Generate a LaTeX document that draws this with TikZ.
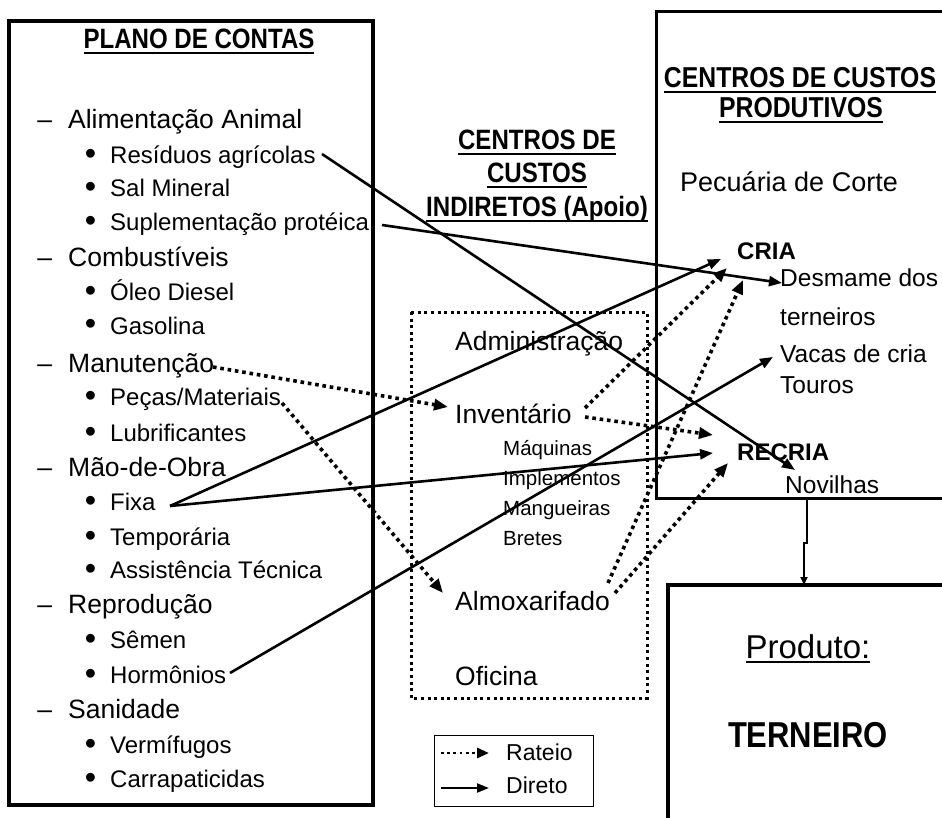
\documentclass[tikz,border=0pt]{standalone}
\usepackage{fontspec}
\setmainfont{Liberation Sans}
\newfontfamily\hfont[FakeStretch=0.86]{Liberation Sans}
\usetikzlibrary{arrows.meta}
\newcommand\ulbox[1]{\setbox0\hbox{#1}\leavevmode\rlap{\rule[-5pt]{\wd0}{2.2pt}}\box0}
\newcommand\dashitem{\makebox[0pt][r]{–\hspace{16pt}}}
\newcommand\bulitem{\makebox[0pt][r]{\raisebox{-1pt}{\scalebox{1.35}{\textbullet}}\hspace{14pt}}}
\tikzset{
  txt/.style={inner sep=0pt, anchor=base west},
  ctxt/.style={inner sep=0pt, anchor=base},
  mainitem/.style={txt, font=\fontsize{26.5}{30}\selectfont},
  subitem/.style={txt, font=\fontsize{24}{28}\selectfont},
  small/.style={txt, font=\fontsize{20.5}{24}\selectfont},
  head/.style={ctxt, font=\fontsize{28}{32}\hfont\bfseries},
  rtxt/.style={txt, font=\fontsize{24.5}{28}\selectfont},
  boldlbl/.style={txt, font=\fontsize{24}{28}\selectfont\bfseries},
  thickbox/.style={line width=3.4pt},
  dotbox/.style={line width=3pt, dash pattern=on 3pt off 3.6pt},
  direct/.style={line width=2.6pt, -{Triangle[length=13pt,width=10pt]}},
  rateio/.style={line width=3.6pt, dash pattern=on 3.6pt off 3.8pt, -{Triangle[length=14pt,width=11pt]}},
  legdot/.style={line width=2.8pt, dash pattern=on 2.8pt off 3.4pt, -{Triangle[length=12pt,width=10pt]}},
  legsolid/.style={line width=2.2pt, -{Triangle[length=12pt,width=9pt]}},
}
\begin{document}
\begin{tikzpicture}[x=1pt, y=-1pt]
\useasboundingbox (0,0) rectangle (942,818);
\fill[white] (0,0) rectangle (942,818);

% boxes
\draw[thickbox] (9,21) rectangle (373,805);
\draw[line width=3pt] (656,12) rectangle (960,498);
\draw[thickbox] (668,585) rectangle (960,840);
\draw[dotbox] (411,312) rectangle (647,698);
\draw[line width=1pt] (434,735) rectangle (593,806);

% left: plano de contas
\node[head] (plano) at (199,49) {\ulbox{PLANO DE CONTAS}};
\node[mainitem] (alim) at (68,129) {\dashitem Alimentação Animal};
\node[subitem] (resid) at (110,164) {\bulitem Resíduos agrícolas};
\node[subitem] (sal) at (110,197) {\bulitem Sal Mineral};
\node[subitem] (supl) at (110,231) {\bulitem Suplementação protéica};
\node[mainitem] (comb) at (68,267) {\dashitem Combustíveis};
\node[subitem] (oleo) at (110,301) {\bulitem Óleo Diesel};
\node[subitem] (gaso) at (110,334) {\bulitem Gasolina};
\node[mainitem] (manu) at (68,372) {\dashitem Manutenção};
\node[subitem] (pecas) at (110,405) {\bulitem Peças/Materiais};
\node[subitem] (lubr) at (110,441) {\bulitem Lubrificantes};
\node[mainitem] (mao) at (68,476) {\dashitem Mão-de-Obra};
\node[subitem] (fixa) at (110,510) {\bulitem Fixa};
\node[subitem] (temp) at (110,545) {\bulitem Temporária};
\node[subitem] (assist) at (110,578) {\bulitem Assistência Técnica};
\node[mainitem] (repr) at (68,613) {\dashitem Reprodução};
\node[subitem] (semen) at (110,648) {\bulitem Sêmen};
\node[subitem] (horm) at (110,683) {\bulitem Hormônios};
\node[mainitem] (sani) at (68,718) {\dashitem Sanidade};
\node[subitem] (verm) at (110,753) {\bulitem Vermífugos};
\node[subitem] (carr) at (110,787) {\bulitem Carrapaticidas};

% center: centros indiretos
\node[head] (ci1) at (537,150) {\ulbox{CENTROS DE}};
\node[head] (ci2) at (537,183) {\ulbox{CUSTOS}};
\node[head] (ci3) at (537,217) {\ulbox{INDIRETOS (Apoio)}};
\node[mainitem] (adm) at (455,350) {Administração};
\node[mainitem] (inv) at (455,423) {Inventário};
\node[small] (maq) at (503,455) {Máquinas};
\node[small] (impl) at (503,485) {Implementos};
\node[small] (mang) at (503,515) {Mangueiras};
\node[small] (bret) at (503,545) {Bretes};
\node[mainitem] (almox) at (455,610) {Almoxarifado};
\node[mainitem] (ofic) at (455,685) {Oficina};

% legend
\coordinate (lgA1) at (441,753);
\coordinate (lgA2) at (489,753);
\coordinate (lgB1) at (441,788);
\coordinate (lgB2) at (489,788);
\node[txt, font=\fontsize{23}{26}\selectfont] (rat) at (506,760) {Rateio};
\node[txt, font=\fontsize{23}{26}\selectfont] (dir) at (506,793) {Direto};
\draw[legdot] (lgA1) -- (lgA2);
\draw[legsolid] (lgB1) -- (lgB2);

% right: centros produtivos
\node[head, font=\fontsize{28.8}{33}\hfont\bfseries] (cp1) at (800,88) {\ulbox{CENTROS DE CUSTOS}};
\node[head, font=\fontsize{28.8}{33}\hfont\bfseries] (cp2) at (801,118) {\ulbox{PRODUTIVOS}};
\node[txt, font=\fontsize{27}{30}\selectfont] (pec) at (680,192) {Pecuária de Corte};
\node[boldlbl] (cria) at (737,260) {CRIA};
\node[rtxt] (desm) at (780,287) {Desmame dos};
\node[rtxt] (tern) at (780,325) {terneiros};
\node[rtxt] (vacas) at (780,362) {Vacas de cria};
\node[rtxt] (touros) at (780,393) {Touros};
\node[boldlbl] (recria) at (737,460) {RECRIA};
\node[rtxt] (novi) at (785,493) {Novilhas};

% product
\node[ctxt, font=\fontsize{33}{36}\selectfont] (prod) at (808,658) {\ulbox{Produto:}};
\node[ctxt, font=\fontsize{36}{40}\hfont\bfseries] (tern2) at (808,747) {TERNEIRO};

% connector end points
\coordinate (residE) at (322,154);
\coordinate (suplE) at (382,225);
\coordinate (fixaE) at (170,506);
\coordinate (hormE) at (230,673);
\coordinate (manuE) at (213,367);
\coordinate (pecasE) at (282,403);
\coordinate (invE1) at (585,408);
\coordinate (invE2) at (585,417);
\coordinate (almoxE1) at (608,583);
\coordinate (almoxE2) at (615,593);
\coordinate (novT) at (795,470);
\coordinate (desmT) at (782,283);
\coordinate (criaT1) at (721,259);
\coordinate (criaT2) at (727,268);
\coordinate (criaT3) at (743,280);
\coordinate (recriaT1) at (713,453);
\coordinate (recriaT2) at (713,435);
\coordinate (recriaT3) at (728,463);
\coordinate (vacasT) at (773,357);
\coordinate (invT) at (448,407);
\coordinate (almoxT) at (443,593);
\coordinate (novB) at (807,498);
\coordinate (prodT) at (804,585);

% direct connectors
\draw[direct] (residE) -- (novT);
\draw[direct] (suplE) -- (desmT);
\draw[direct] (fixaE) -- (criaT1);
\draw[direct] (fixaE) -- (recriaT1);
\draw[direct] (hormE) -- (vacasT);
\draw[line width=2.4pt, -{Triangle[length=8pt,width=7pt]}] (novB) -- (807,543) -- (804,543) -- (prodT);

% rateio connectors
\draw[rateio] (manuE) -- (invT);
\draw[rateio] (pecasE) -- (almoxT);
\draw[rateio] (invE1) -- (criaT2);
\draw[rateio] (invE2) -- (recriaT2);
\draw[rateio] (almoxE1) -- (criaT3);
\draw[rateio] (almoxE2) -- (recriaT3);
\end{tikzpicture}
\end{document}
